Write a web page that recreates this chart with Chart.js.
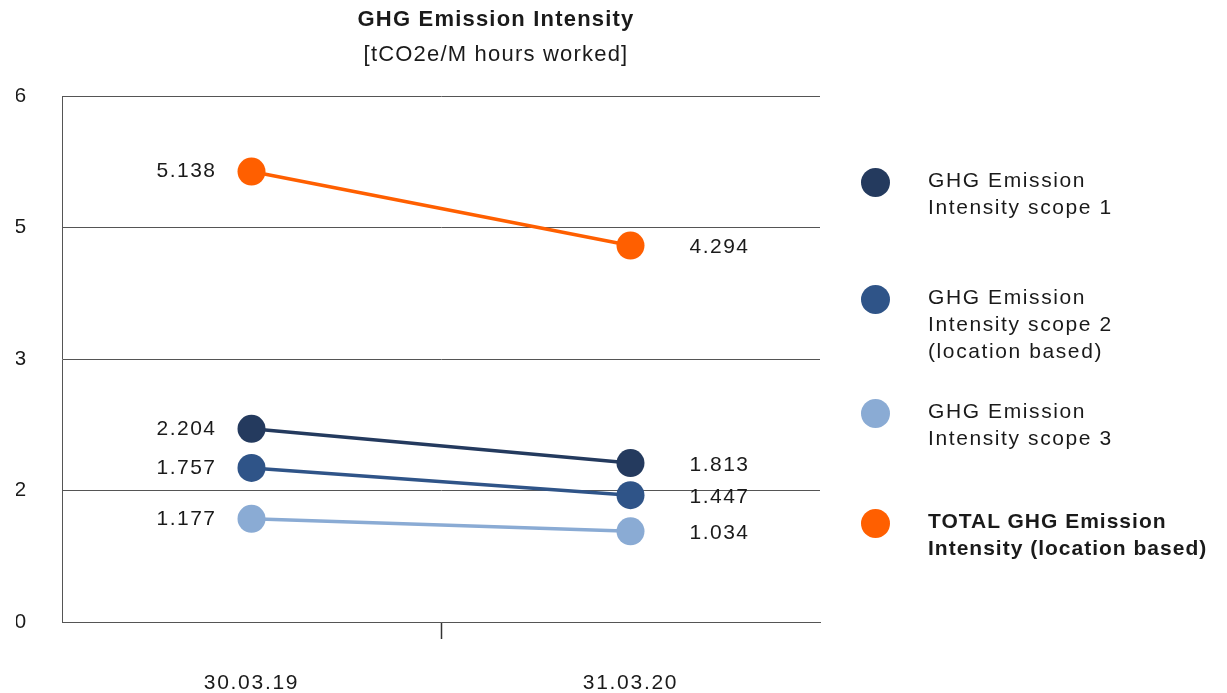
<!DOCTYPE html>
<html>
<head>
<meta charset="utf-8">
<script src="https://cdn.jsdelivr.net/npm/chart.js@4/dist/chart.umd.min.js"></script>
<style>
  html, body { margin: 0; padding: 0; background: #fff; overflow: hidden; }
  body { font-family: "Liberation Sans", Arial, Helvetica, sans-serif; color: #1a1a1a; }
  #wrap { position: relative; width: 1227px; height: 696px; }
  .title { position: absolute; left: 0; width: 992px; text-align: center; letter-spacing: 1.2px; }
  #t1 { top: 6px; font-size: 22px; font-weight: bold; }
  #t2 { top: 41px; font-size: 22px; }
  #legend { position: absolute; left: 0; top: 0; }
  .item { position: absolute; left: 928px; font-size: 21px; line-height: 27px; letter-spacing: 1.6px; white-space: nowrap; }
  .item.bold { font-weight: bold; letter-spacing: 1px; }
  .dot { position: absolute; left: -67px; top: 2px; width: 29px; height: 29px; border-radius: 50%; }
</style>
</head>
<body>
<div id="wrap">
  <div class="title" id="t1">GHG Emission Intensity</div>
  <div class="title" id="t2">[tCO2e/M hours worked]</div>
  <canvas id="chart"></canvas>
  <div id="legend"></div>
</div>
<script>
// values
const categories = ['30.03.19', '31.03.20'];
const scope1 = [2.204, 1.813];
const scope2 = [1.757, 1.447];
const scope3 = [1.177, 1.034];
const total = [5.138, 4.294];
const yTickLabels = ['0', '2', '3', '5', '6'];

const seriesNames = [
    ['GHG Emission', 'Intensity scope 1'],
    ['GHG Emission', 'Intensity scope 2', '(location based)'],
    ['GHG Emission', 'Intensity scope 3'],
    ['TOTAL GHG Emission', 'Intensity (location based)']
];
const seriesColors = ['#243a5e', '#2f5488', '#8aabd4', '#ff5f00'];
const legendTops = [166, 283, 397, 507];

const mkSet = (data, i) => ({
    label: seriesNames[i].join(' '),
    data: data,
    borderColor: seriesColors[i],
    backgroundColor: seriesColors[i],
    borderWidth: 3.5,
    pointRadius: 14,
    pointHoverRadius: 14,
    pointBorderWidth: 0
});

const spacing = {
    id: 'spacing',
    beforeLayout(chart) { chart.ctx.letterSpacing = '1.7px'; },
    beforeDraw(chart) { chart.ctx.letterSpacing = '1.7px'; }
};

// value labels next to each point
const valueLabels = {
    id: 'valueLabels',
    afterDatasetsDraw(chart) {
        const ctx = chart.ctx;
        ctx.save();
        ctx.letterSpacing = '1.5px';
        ctx.font = '21px "Liberation Sans", Arial, sans-serif';
        ctx.fillStyle = '#1a1a1a';
        ctx.textBaseline = 'middle';
        chart.data.datasets.forEach((ds, i) => {
            chart.getDatasetMeta(i).data.forEach((pt, j) => {
                let txt = ds.data[j].toFixed(3);
                if (j == 0) {
                    ctx.textAlign = 'right';
                    ctx.fillText(txt, pt.x - 35, pt.y);
                } else {
                    ctx.textAlign = 'left';
                    ctx.fillText(txt, pt.x + 59, pt.y + 2);
                }
            });
        });
        ctx.restore();
    }
};

const chart = new Chart(document.getElementById('chart'), {
    type: 'line',
    data: {
        labels: categories,
        datasets: [mkSet(scope1, 0), mkSet(scope2, 1), mkSet(scope3, 2), mkSet(total, 3)]
    },
    options: {
        responsive: true,
        maintainAspectRatio: false,
        animation: false,
        layout: { padding: { left: 16, right: 407, top: 96, bottom: 0 } },
        plugins: {
            legend: { display: false },
            tooltip: { enabled: false }
        },
        scales: {
            x: {
                offset: true,
                grid: {
                    offset: true,
                    drawOnChartArea: false,
                    tickLength: 17,
                    tickWidth: 1.5,
                    color: c => c.index === 1 ? '#333' : 'rgba(0,0,0,0)'
                },
                border: { display: true, color: '#555', width: 1 },
                ticks: {
                    padding: 32,
                    color: '#1a1a1a',
                    font: { family: '"Liberation Sans", Arial, sans-serif', size: 21 }
                },
                afterFit: s => { s.height = 74; }
            },
            y: {
                min: 0,
                max: 6,
                grid: { color: '#555', lineWidth: 1, drawTicks: false },
                border: { display: true, color: '#555', width: 1 },
                ticks: {
                    stepSize: 1.5,
                    padding: 34,
                    color: '#1a1a1a',
                    font: { family: '"Liberation Sans", Arial, sans-serif', size: 21 },
                    callback: (v, i) => yTickLabels[i]
                },
                afterFit: s => { s.width = 46; }
            }
        }
    },
    plugins: [spacing, valueLabels]
});

// legend built from the datasets
const legend = document.getElementById('legend');
chart.data.datasets.forEach((ds, i) => {
    let item = document.createElement('div');
    item.className = 'item' + (i == 3 ? ' bold' : '');
    item.style.top = legendTops[i] + 'px';
    item.innerHTML = '<span class="dot" style="background:' + ds.backgroundColor + '"></span>' + seriesNames[i].join('<br>');
    legend.appendChild(item);
});
</script>
</body>
</html>
